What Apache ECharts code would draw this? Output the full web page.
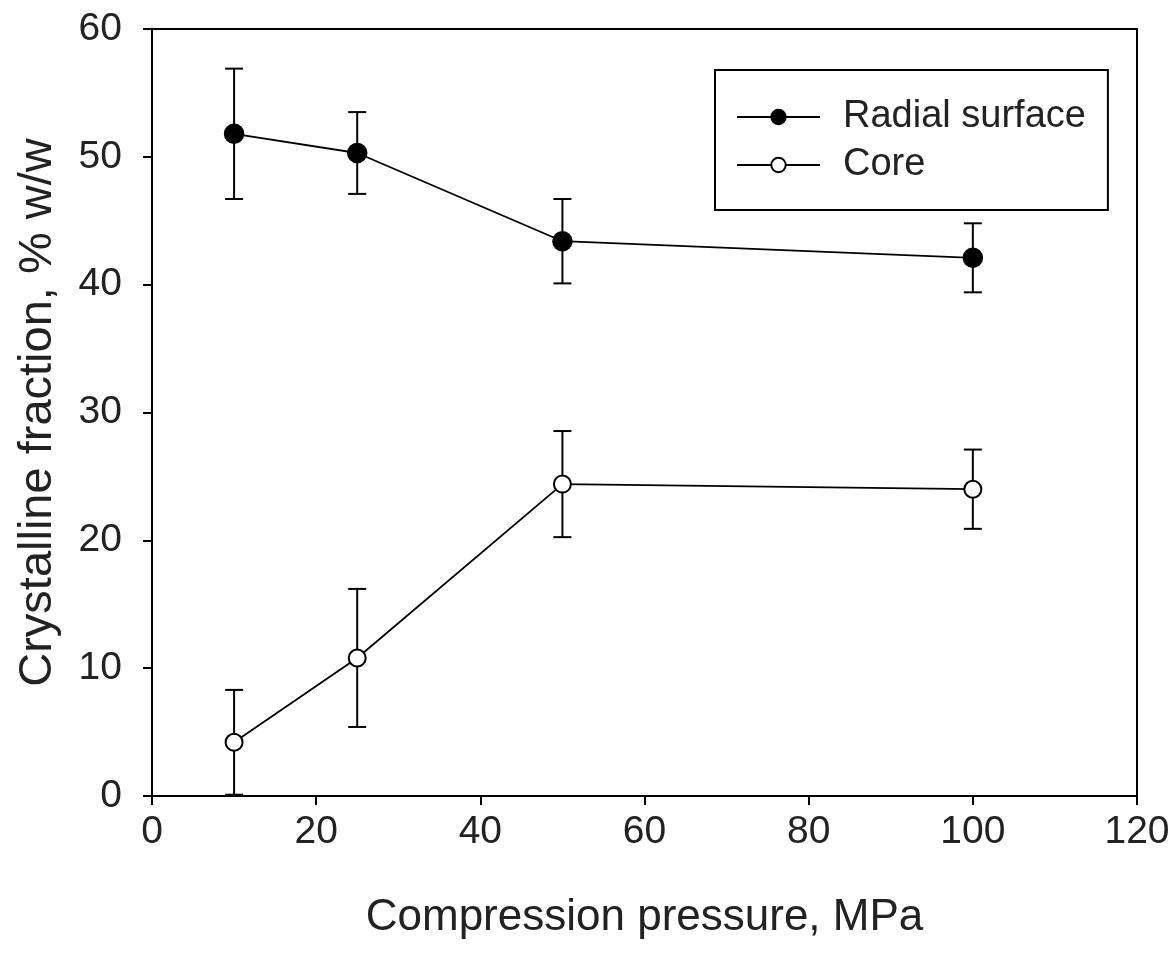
<!DOCTYPE html>
<html>
	<head>
		<meta charset="UTF-8">
		<title>Crystalline fraction</title>
		<style type="text/css">
			html, body{
				margin: 0;
				padding: 0;
				background: #fff;
			}
			#chartBox{
				width: 1168px;
				height: 956px;
			}
		</style>
	</head>
	<body>
		<div id="chartBox"></div>
		<script src="https://cdn.jsdelivr.net/npm/echarts@6/dist/echarts.min.js" type="text/javascript" charset="utf-8"></script>
		<script type="text/javascript">
			// data
			var pressure = [10, 25, 50, 100];               // MPa
			var radialMean = [51.8, 50.3, 43.4, 42.1];       // % w/w
			var radialErr = [5.1, 3.2, 3.3, 2.7];
			var coreMean = [4.2, 10.8, 24.4, 24.0];
			var coreErr = [4.1, 5.4, 4.15, 3.1];
			var xTicks = [0, 20, 40, 60, 80, 100, 120];
			var yTicks = [0, 10, 20, 30, 40, 50, 60];

			var FONT = "'Liberation Sans Narrow', 'Arial Narrow', 'Liberation Sans', Arial, sans-serif";
			var TEXT_COLOR = '#222';

			function pairs(xs, ys){
				var out = [];
				for(var i = 0; i < xs.length; i++){
					out.push([xs[i], ys[i]]);
				}
				return out;
			}
			function errRows(xs, m, e){
				var out = [];
				for(var i = 0; i < xs.length; i++){
					out.push([xs[i], m[i] - e[i], m[i] + e[i]]);
				}
				return out;
			}
			// error bar drawing (vertical line + caps)
			function renderErr(params, api){
				var lo = api.coord([api.value(0), api.value(1)]);
				var hi = api.coord([api.value(0), api.value(2)]);
				var cap = 9;
				var style = {stroke: '#000', lineWidth: 2};
				return {
					type: 'group',
					children: [
						{type: 'line', shape: {x1: lo[0], y1: lo[1], x2: hi[0], y2: hi[1]}, style: style},
						{type: 'line', shape: {x1: hi[0] - cap, y1: hi[1], x2: hi[0] + cap, y2: hi[1]}, style: style},
						{type: 'line', shape: {x1: lo[0] - cap, y1: lo[1], x2: lo[0] + cap, y2: lo[1]}, style: style}
					]
				};
			}

			var chart = echarts.init(document.getElementById('chartBox'), null, {renderer: 'canvas'});
			var option = {
				backgroundColor: '#fff',
				animation: false,
				textStyle: {fontFamily: FONT},
				grid: {
					left: 152,
					right: 31,
					top: 29,
					bottom: 160,
					show: true,
					borderColor: '#000',
					borderWidth: 2,
					outerBoundsMode: 'none',
					containLabel: false
				},
				legend: {
					orient: 'vertical',
					left: 715,
					top: 70,
					padding: [27, 22, 25, 21],
					itemGap: 8,
					itemWidth: 83,
					itemHeight: 18,
					borderColor: '#000',
					borderWidth: 2,
					textStyle: {fontFamily: FONT, fontSize: 38, color: TEXT_COLOR, lineHeight: 40, padding: [0, 0, 0, 18]},
					data: ['Radial surface', 'Core']
				},
				xAxis: {
					type: 'value',
					min: 0,
					max: 120,
					interval: 20,
					name: 'Compression pressure, MPa',
					nameLocation: 'middle',
					nameGap: 100,
					nameTextStyle: {fontFamily: FONT, fontSize: 44, color: TEXT_COLOR},
					axisLine: {show: true, lineStyle: {color: '#000', width: 2}},
					axisTick: {show: true, inside: false, length: 9, lineStyle: {color: '#000', width: 2}},
					axisLabel: {margin: 17, fontFamily: FONT, fontSize: 39, color: TEXT_COLOR},
					splitLine: {show: false}
				},
				yAxis: {
					type: 'value',
					min: 0,
					max: 60,
					interval: 10,
					name: 'Crystalline fraction, % w/w',
					nameLocation: 'middle',
					nameGap: 90,
					nameTextStyle: {fontFamily: FONT, fontSize: 47, color: TEXT_COLOR},
					axisLine: {show: true, lineStyle: {color: '#000', width: 2}},
					axisTick: {show: true, inside: false, length: 9, lineStyle: {color: '#000', width: 2}},
					axisLabel: {margin: 30, fontFamily: FONT, fontSize: 39, color: TEXT_COLOR},
					splitLine: {show: false}
				},
				series: [
					{
						name: 'Radial surface err',
						type: 'custom',
						renderItem: renderErr,
						data: errRows(pressure, radialMean, radialErr),
						encode: {x: 0, y: [1, 2]},
						z: 2,
						silent: true
					},
					{
						name: 'Core err',
						type: 'custom',
						renderItem: renderErr,
						data: errRows(pressure, coreMean, coreErr),
						encode: {x: 0, y: [1, 2]},
						z: 2,
						silent: true
					},
					{
						name: 'Radial surface',
						type: 'line',
						data: pairs(pressure, radialMean),
						symbol: 'circle',
						symbolSize: 19,
						lineStyle: {color: '#000', width: 1.8},
						itemStyle: {color: '#000', borderColor: '#000', borderWidth: 1.5},
						z: 5
					},
					{
						name: 'Core',
						type: 'line',
						data: pairs(pressure, coreMean),
						symbol: 'circle',
						symbolSize: 17,
						lineStyle: {color: '#000', width: 1.8},
						itemStyle: {color: '#fff', borderColor: '#000', borderWidth: 2},
						z: 5
					}
				]
			};
			chart.setOption(option);
		</script>
	</body>
</html>
